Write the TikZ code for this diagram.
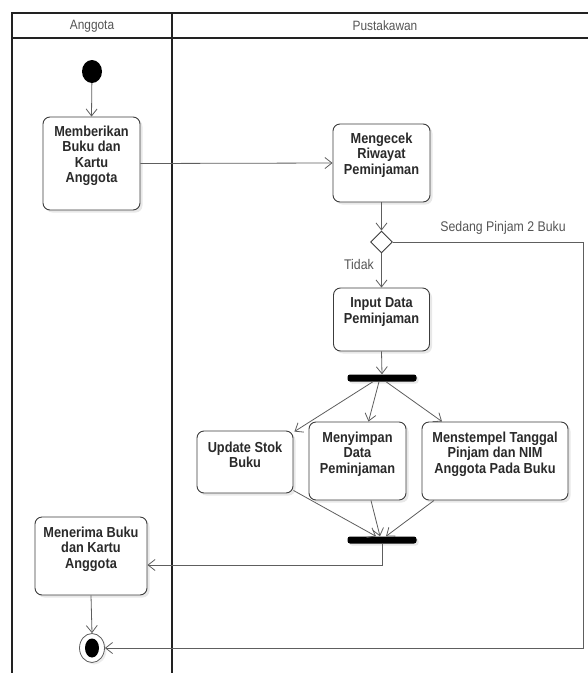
\documentclass[tikz,border=0pt]{standalone}
\usepackage{fontspec}
\setmainfont{Liberation Sans}[FakeStretch=0.88]
\usetikzlibrary{arrows.meta,shapes.geometric,shadows,calc}
\definecolor{linec}{HTML}{5E5E5E}
\definecolor{boxc}{HTML}{3C3C3C}
\definecolor{textc}{HTML}{2A2A2A}
\definecolor{headc}{HTML}{555555}
\definecolor{framec}{HTML}{222222}
\begin{document}
\begin{tikzpicture}[x=1pt,y=-1pt,
  frame/.style={draw=framec, line width=1.4pt},
  flow/.style={draw=linec, line width=0.8pt,
    -{Straight Barb[length=7pt,width=11pt,line width=0.8pt]}},
  act/.style={draw=boxc, line width=0.9pt, rounded corners=7pt, fill=white,
    inner sep=0pt,
    drop shadow={opacity=0.18, shadow xshift=2.5pt, shadow yshift=-2.5pt}},
  acttext/.style={anchor=north, inner sep=0pt, align=center, text=textc,
    font=\bfseries\fontsize{14.5}{15.5}\selectfont},
  head/.style={text=headc, inner sep=0pt, font=\fontsize{13.5}{15}\selectfont},
  guard/.style={text=headc, inner sep=0pt, font=\fontsize{14}{15}\selectfont},
  bar/.style={fill=black, rounded corners=2.5pt, minimum width=69pt,
    minimum height=7pt, inner sep=0pt,
    drop shadow={opacity=0.18, shadow xshift=2pt, shadow yshift=-2pt}},
  decision/.style={diamond, draw=boxc, line width=0.9pt, fill=white,
    minimum width=22pt, minimum height=22pt, inner sep=0pt, aspect=1},
  oval/.style={ellipse, inner sep=0pt}
]
\useasboundingbox (0,0) rectangle (588,673);

% swimlane frame
\draw[frame] (12,673) -- (12,13) -- (600,13);
\draw[frame] (12,38) -- (600,38);
\draw[frame] (172,13) -- (172,673);
\node[head] (hAng) at (92,26) {Anggota};
\node[head] (hPus) at (385,26) {Pustakawan};

% start and end
\node[oval, fill=black, minimum width=20pt, minimum height=23pt] (start) at (92,71.5) {};
\node[oval, draw=linec, line width=0.8pt, fill=white, minimum width=25pt,
  minimum height=29pt,
  drop shadow={opacity=0.15, shadow xshift=2pt, shadow yshift=-2pt}] (end) at (92,648) {};
\node[oval, fill=black, minimum width=14pt, minimum height=19pt] (endin) at (92,648) {};

% activities
\node[act, minimum width=97pt, minimum height=93pt] (b1) at (91.5,163.5) {};
\node[acttext] (t1) at ([yshift=-9pt]b1.north) {Memberikan\\Buku dan\\Kartu\\Anggota};

\node[act, minimum width=97pt, minimum height=78pt] (b2) at (381.5,163) {};
\node[acttext] (t2) at ([yshift=-9pt]b2.north) {Mengecek\\Riwayat\\Peminjaman};

\node[decision] (dia) at (381.5,242) {};

\node[act, minimum width=96pt, minimum height=63pt] (b3) at (381.5,319.5) {};
\node[acttext] (t3) at ([yshift=-10pt]b3.north) {Input Data\\Peminjaman};

\node[bar] (fork) at (382,378) {};

\node[act, minimum width=96pt, minimum height=62pt] (b4) at (245,462) {};
\node[acttext] (t4) at ([yshift=-11pt]b4.north) {Update Stok\\Buku};

\node[act, minimum width=97pt, minimum height=78pt] (b5) at (357.5,461) {};
\node[acttext] (t5) at ([yshift=-10pt]b5.north) {Menyimpan\\Data\\Peminjaman};

\node[act, minimum width=146pt, minimum height=78pt] (b6) at (495,461) {};
\node[acttext] (t6) at ([yshift=-10pt]b6.north) {Menstempel Tanggal\\Pinjam dan NIM\\Anggota Pada Buku};

\node[bar] (join) at (382,540) {};

\node[act, minimum width=112pt, minimum height=78pt] (b7) at (91,556) {};
\node[acttext] (t7) at ([yshift=-10pt]b7.north) {Menerima Buku\\dan Kartu\\Anggota};

% flows
\draw[flow] (start) -- (b1.north);
\draw[flow] (b1.east) -- (b2.west);
\draw[flow] (b2.south) -- (dia.north);
\draw[flow] (dia.south) -- (b3.north);
\node[guard, anchor=east] (gNo) at (374,264) {Tidak};
\coordinate (loopA) at (583,242);
\coordinate (loopB) at (583,648);
\draw[flow] (dia.east) -- (loopA) -- (loopB) -- (end.east);
\node[guard] (gYes) at (503,228) {Sedang Pinjam 2 Buku};
\draw[flow] (b3.south) -- (fork.north);

\draw[flow] ([xshift=-9pt]fork.south) -- ([xshift=1pt,yshift=-1pt]b4.north east);
\draw[flow] ([xshift=-3pt]fork.south) -- ([xshift=11pt]b5.north);
\draw[flow] ([xshift=4pt]fork.south) -- ([xshift=-53pt]b6.north);

\draw[flow] ([yshift=3pt]b4.south east) -- ([xshift=-6pt]join.north);
\draw[flow] ([xshift=13.5pt]b5.south) -- ([xshift=-2pt]join.north);
\draw[flow] ([xshift=-61pt]b6.south) -- ([xshift=4pt]join.north);

\draw[flow] (join.south) |- ([yshift=-9pt]b7.east);
\draw[flow] (b7.south) -- (end.north);
\end{tikzpicture}
\end{document}
